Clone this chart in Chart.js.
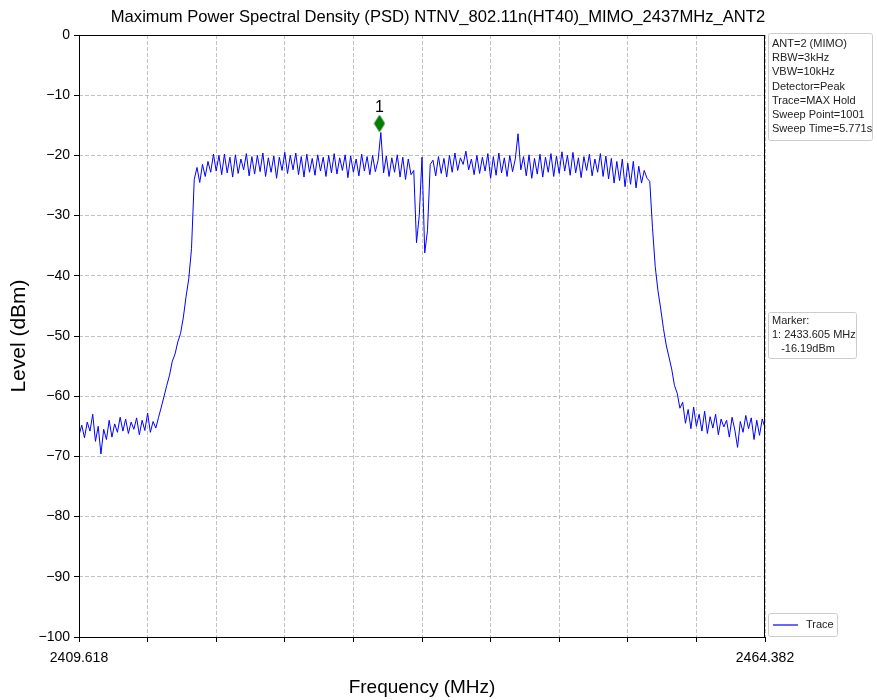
<!DOCTYPE html>
<html>
<head>
<meta charset="utf-8">
<script src="https://cdn.jsdelivr.net/npm/chart.js@4.4.1/dist/chart.umd.min.js"></script>
<style>
  html, body { margin: 0; padding: 0; background: #fff; }
  #wrap { width: 877px; height: 700px; }
</style>
</head>
<body>
<div id="wrap"><canvas id="psd" width="877" height="700"></canvas></div>
<script>
"use strict";

const TITLE = "Maximum Power Spectral Density (PSD) NTNV_802.11n(HT40)_MIMO_2437MHz_ANT2";
const FREQ_START = 2409.618;
const FREQ_STOP  = 2464.382;

// grid positions (10 divisions), only the ends are labelled
const xTickVals   = [2409.618, 2415.0944, 2420.5708, 2426.0472, 2431.5236, 2437.0, 2442.4764, 2447.9528, 2453.4292, 2458.9056, 2464.382];
const xTickLabels = ["2409.618", "", "", "", "", "", "", "", "", "", "2464.382"];
const yTickVals   = [0, -10, -20, -30, -40, -50, -60, -70, -80, -90, -100];

// trace level (dBm), evenly spaced across the span
const traceLevel = [
  -66.5, -64.8, -66.9, -64.3, -65.8, -63.0, -67.5, -65.0, -69.6, -65.5,
  -67.2, -64.0, -66.8, -64.6, -66.0, -63.5, -65.8, -63.8, -66.2, -64.3,
  -65.5, -63.6, -66.4, -64.0, -65.7, -62.8, -66.0, -64.2, -65.3, -63.5,
  -61.8, -60.0, -58.2, -56.5, -54.2, -53.0, -51.0, -49.6, -47.0, -43.5,
  -40.5, -35.5, -24.0, -22.0, -24.5, -21.5, -23.5, -21.0, -22.8, -19.8,
  -22.6, -20.0, -23.2, -19.8, -22.9, -20.3, -23.6, -19.9, -23.0, -20.6,
  -22.4, -19.7, -23.4, -20.2, -23.1, -20.0, -22.7, -19.6, -23.5, -20.4,
  -22.8, -20.1, -23.8, -20.3, -22.5, -19.5, -23.0, -20.0, -22.4, -19.6,
  -23.2, -20.2, -23.6, -19.8, -22.8, -20.5, -23.3, -19.9, -22.6, -20.3,
  -23.5, -20.0, -22.9, -19.7, -23.1, -20.4, -22.5, -19.9, -23.7, -20.1,
  -22.8, -20.6, -23.4, -19.8, -22.6, -20.2, -23.2, -20.0, -22.7, -20.8,
  -16.2, -22.9, -20.1, -23.5, -20.4, -22.8, -19.9, -23.6, -20.3, -24.0,
  -20.6, -23.2, -22.5, -34.5, -30.0, -20.3, -36.2, -32.5, -21.5, -20.8,
  -23.4, -20.2, -23.0, -20.5, -23.6, -20.0, -22.8, -19.6, -22.5, -20.4,
  -21.5, -19.3, -22.4, -20.6, -23.2, -20.0, -23.0, -20.3, -22.6, -19.7,
  -23.8, -20.2, -23.3, -19.6, -22.9, -20.4, -23.5, -20.0, -22.7, -20.6,
  -16.4, -22.4, -20.2, -23.4, -19.9, -23.8, -20.5, -23.1, -19.8, -23.6,
  -20.3, -22.8, -19.7, -23.5, -20.1, -23.0, -19.4, -22.6, -20.0, -23.3,
  -19.5, -22.9, -20.4, -23.7, -20.2, -22.5, -19.8, -23.4, -20.6, -22.8,
  -19.7, -23.5, -20.1, -23.9, -20.5, -24.6, -21.0, -24.2, -20.6, -25.2,
  -21.3, -24.8, -21.0, -25.4, -21.8, -24.6, -22.5, -23.8, -24.3, -32.0,
  -38.5, -42.5, -45.5, -48.8, -51.5, -53.5, -55.5, -58.2, -59.5, -62.0,
  -61.0, -64.5, -62.2, -65.4, -61.8, -65.0, -63.0, -65.8, -62.5, -66.2,
  -63.4, -65.3, -63.0, -66.4, -63.8, -65.1, -64.0, -66.8, -63.5, -65.6,
  -68.5, -64.2, -66.0, -63.2, -65.4, -63.6, -67.2, -64.0, -66.5, -63.8,
  -65.2
];

const markerFreq  = [2433.605];
const markerLevel = [-14.7];   // where the diamond sits in the picture

const infoLines   = ["ANT=2 (MIMO)", "RBW=3kHz", "VBW=10kHz", "Detector=Peak", "Trace=MAX Hold", "Sweep Point=1001", "Sweep Time=5.771s"];
const markerLines = ["Marker:", "1: 2433.605 MHz", "   -16.19dBm"];

const FONT = '"Liberation Sans", Arial, Helvetica, sans-serif';

const step = (FREQ_STOP - FREQ_START) / (traceLevel.length - 1);
const tracePoints  = traceLevel.map((v, i) => ({ x: FREQ_START + i * step, y: v }));
const markerPoints = markerFreq.map((f, i) => ({ x: f, y: markerLevel[i] }));

// thin diamond like matplotlib's "d" marker
const diamond = document.createElement("canvas");
diamond.width = 12; diamond.height = 18;
(() => {
  const c = diamond.getContext("2d");
  c.beginPath();
  c.moveTo(6, 1); c.lineTo(11, 9); c.lineTo(6, 17); c.lineTo(1, 9); c.closePath();
  c.fillStyle = "#008000"; c.fill();
  c.strokeStyle = "#006400"; c.lineWidth = 1; c.stroke();
})();

function roundBox(ctx, x, y, w, hgt, r) {
  ctx.beginPath();
  ctx.moveTo(x + r, y);
  ctx.arcTo(x + w, y, x + w, y + hgt, r);
  ctx.arcTo(x + w, y + hgt, x, y + hgt, r);
  ctx.arcTo(x, y + hgt, x, y, r);
  ctx.arcTo(x, y, x + w, y, r);
  ctx.closePath();
  ctx.fillStyle = "rgba(255,255,255,0.9)";
  ctx.fill();
  ctx.strokeStyle = "#cccccc";
  ctx.lineWidth = 1;
  ctx.stroke();
}

const overlay = {
  id: "overlay",
  afterDatasetsDraw(chart) {
    const { ctx, chartArea: a } = chart;
    ctx.save();
    ctx.strokeStyle = "#000";
    ctx.lineWidth = 1;
    ctx.strokeRect(a.left + 0.5, a.top + 0.5, a.right - a.left - 1, a.bottom - a.top);
    ctx.restore();
  },
  afterDraw(chart) {
    const { ctx, scales: { x, y } } = chart;
    ctx.save();

    ctx.fillStyle = "#000";
    ctx.textAlign = "center";
    ctx.textBaseline = "middle";
    ctx.font = "16.6px " + FONT;
    ctx.fillText(TITLE, 438, 17);

    // marker number above the diamond
    ctx.font = "16px " + FONT;
    ctx.fillText("1", x.getPixelForValue(markerFreq[0]), y.getPixelForValue(markerLevel[0]) - 16);

    // info box
    ctx.textAlign = "left";
    ctx.font = "11px " + FONT;
    roundBox(ctx, 768.5, 33.5, 104, 107, 2);
    ctx.fillStyle = "#222";
    infoLines.forEach((t, i) => ctx.fillText(t, 772, 44 + i * 14.2));

    // marker box
    roundBox(ctx, 768.5, 312.5, 88, 46, 2);
    ctx.fillStyle = "#222";
    markerLines.forEach((t, i) => ctx.fillText(t, 772, 321 + i * 14));

    // legend
    roundBox(ctx, 768.5, 613.5, 69, 23, 2);
    ctx.strokeStyle = "#0000ff";
    ctx.lineWidth = 1.2;
    ctx.beginPath(); ctx.moveTo(773, 625); ctx.lineTo(798, 625); ctx.stroke();
    ctx.fillStyle = "#222";
    ctx.fillText("Trace", 806, 625);

    ctx.restore();
  },
};

new Chart(document.getElementById("psd"), {
  type: "line",
  data: {
    datasets: [
      {
        label: "Trace",
        data: tracePoints,
        borderColor: "#0000ff",
        borderWidth: 1,
        pointRadius: 0,
        tension: 0,
        order: 2,
      },
      {
        label: "Marker",
        data: markerPoints,
        showLine: false,
        pointStyle: diamond,
        pointRadius: 6,
        order: 1,
      },
    ],
  },
  options: {
    responsive: false,
    animation: false,
    devicePixelRatio: 1,
    layout: { padding: { top: 35, right: 112, left: 0, bottom: 0 } },
    plugins: { legend: { display: false }, tooltip: { enabled: false }, title: { display: false } },
    scales: {
      x: {
        type: "linear",
        min: FREQ_START,
        max: FREQ_STOP,
        afterBuildTicks: s => { s.ticks = xTickVals.map(v => ({ value: v })); },
        afterFit: s => { s.height = 63; },
        ticks: {
          autoSkip: false,
          maxRotation: 0,
          padding: 8,
          color: "#000",
          font: { family: FONT, size: 14 },
          callback: (v, i) => xTickLabels[i],
        },
        grid: {
          color: "#b0b0b0",
          lineWidth: 0.8,
          tickLength: 5,
          tickColor: "#000",
          tickWidth: 1,
        },
        border: { display: false, dash: [4, 2] },
        title: {
          display: true,
          text: "Frequency (MHz)",
          color: "#000",
          font: { family: FONT, size: 19 },
          padding: { top: 0, bottom: 1 },
        },
      },
      y: {
        min: -100,
        max: 0,
        afterBuildTicks: s => { s.ticks = yTickVals.map(v => ({ value: v })); },
        afterFit: s => { s.width = 79; },
        ticks: {
          padding: 4,
          color: "#000",
          font: { family: FONT, size: 14 },
          callback: v => (v < 0 ? "\u2212" + Math.abs(v) : String(v)),
        },
        grid: {
          color: "#b0b0b0",
          lineWidth: 0.8,
          tickLength: 5,
          tickColor: "#000",
          tickWidth: 1,
        },
        border: { display: false, dash: [4, 2] },
        title: {
          display: true,
          text: "Level (dBm)",
          color: "#000",
          font: { family: FONT, size: 21 },
          padding: { top: 7, bottom: 0 },
        },
      },
    },
  },
  plugins: [overlay],
});
</script>
</body>
</html>
